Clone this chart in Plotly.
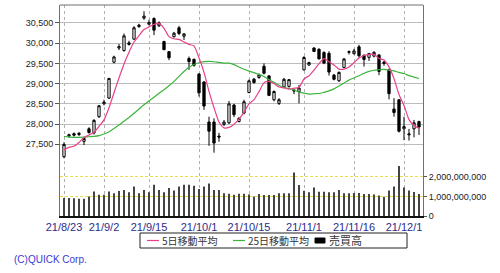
import plotly.graph_objects as go

# ---------------- data ----------------
dates = [
    "2021-08-23", "2021-08-24", "2021-08-25", "2021-08-26", "2021-08-27", "2021-08-30", "2021-08-31",
    "2021-09-01", "2021-09-02", "2021-09-03", "2021-09-06", "2021-09-07", "2021-09-08", "2021-09-09",
    "2021-09-10", "2021-09-13", "2021-09-14", "2021-09-15", "2021-09-16", "2021-09-17", "2021-09-21",
    "2021-09-22", "2021-09-24", "2021-09-27", "2021-09-28", "2021-09-29", "2021-09-30",
    "2021-10-01", "2021-10-04", "2021-10-05", "2021-10-06", "2021-10-07", "2021-10-08", "2021-10-11",
    "2021-10-12", "2021-10-13", "2021-10-14", "2021-10-15", "2021-10-18", "2021-10-19", "2021-10-20",
    "2021-10-21", "2021-10-22", "2021-10-25", "2021-10-26", "2021-10-27", "2021-10-28", "2021-10-29",
    "2021-11-01", "2021-11-02", "2021-11-04", "2021-11-05", "2021-11-08", "2021-11-09", "2021-11-10",
    "2021-11-11", "2021-11-12", "2021-11-15", "2021-11-16", "2021-11-17", "2021-11-18", "2021-11-19",
    "2021-11-22", "2021-11-24", "2021-11-25", "2021-11-26", "2021-11-29", "2021-11-30",
    "2021-12-01", "2021-12-02", "2021-12-03", "2021-12-06",
]

open_ = [27190, 27700, 27760, 27770, 27570, 27880, 27780, 28180, 28500, 28640,
         29530, 29880, 29820, 29970, 30100, 30410, 30620, 30470, 30610, 30430,
         30040, 29790, 30160, 30380, 30170, 29620, 29600, 29235, 29040, 28050,
         28050, 27700, 27990, 28030, 28470, 28060, 28270, 28780, 29110, 29150,
         29430, 29190, 28600, 28510, 28920, 28930, 28840, 28800, 29340, 29460,
         29880, 29850, 29770, 29750, 29210, 29070, 29400, 29790, 29740, 29910,
         29700, 29650, 29680, 29710, 29530, 29340, 28370, 28600, 27880, 27730,
         27880, 28060]
high = [27550, 27760, 27790, 27800, 27680, 27920, 28120, 28470, 28600, 29140,
        29690, 29980, 30240, 30060, 30420, 30480, 30790, 30580, 30640, 30540,
        30060, 29800, 30280, 30430, 30250, 29670, 29620, 29260, 29060, 28180,
        28140, 27780, 28100, 28570, 28500, 28170, 28600, 29100, 29140, 29250,
        29500, 29210, 28830, 28640, 29140, 29110, 28880, 28970, 29680, 29540,
        29900, 29870, 29800, 29800, 29240, 29300, 29630, 29820, 29860, 29960,
        29720, 29760, 29800, 29720, 29560, 29370, 28640, 28610, 28180, 27880,
        28100, 28080]
low = [27150, 27660, 27690, 27700, 27480, 27760, 27740, 28150, 28460, 28620,
       29500, 29830, 29790, 29940, 30080, 30380, 30580, 30440, 30200, 30400,
       29830, 29580, 30140, 30200, 30080, 29340, 29420, 28680, 28350, 27460,
       27290, 27560, 27950, 28000, 28170, 28040, 28240, 28760, 29000, 29120,
       29230, 28690, 28560, 28470, 28900, 28900, 28740, 28510, 29320, 29440,
       29780, 29600, 29480, 29200, 29080, 29040, 29380, 29720, 29720, 29640,
       29420, 29560, 29650, 29210, 29440, 28610, 28180, 27790, 27600, 27590,
       27670, 27730]
close = [27494, 27732, 27724, 27742, 27641, 27789, 28089, 28451, 28543, 29128,
         29659, 29916, 30181, 30008, 30381, 30447, 30670, 30511, 30323, 30500,
         29839, 29639, 30248, 30240, 30230, 29544, 29452, 28771, 28444, 27822,
         27528, 27678, 28048, 28498, 28230, 28140, 28550, 29068, 29025, 29215,
         29255, 28708, 28804, 28600, 29106, 29098, 28820, 28892, 29647, 29520,
         29794, 29611, 29507, 29285, 29106, 29277, 29609, 29776, 29808, 29688,
         29598, 29745, 29774, 29302, 29499, 28751, 28283, 27821, 27935, 27753,
         28029, 27927]

ma5 = [27359, 27421, 27449, 27541, 27667, 27726, 27797, 27942, 28103, 28400,
       28774, 29139, 29485, 29778, 30029, 30187, 30337, 30403, 30466, 30490,
       30369, 30162, 30110, 30093, 30030, 29971, 29933, 29638, 29279, 28807,
       28403, 28049, 27904, 27915, 27996, 28119, 28293, 28497, 28603, 28800,
       29023, 29054, 29001, 28916, 28895, 28863, 28886, 28903, 29113, 29195,
       29335, 29493, 29616, 29543, 29461, 29357, 29357, 29411, 29515, 29632,
       29696, 29723, 29723, 29621, 29584, 29414, 29122, 28731, 28458, 28109,
       27964, 27893]

ma25 = [27690, 27680, 27670, 27668, 27675, 27684, 27694, 27713, 27752, 27806,
        27890, 27975, 28070, 28160, 28265, 28370, 28475, 28570, 28660, 28760,
        28850, 28945, 29055, 29180, 29300, 29405, 29474, 29516, 29544, 29551,
        29541, 29524, 29508, 29506, 29470, 29410, 29355, 29310, 29271, 29225,
        29177, 29098, 29030, 28961, 28905, 28876, 28843, 28789, 28765, 28739,
        28749, 28755, 28784, 28818, 28869, 28939, 29017, 29086, 29138, 29196,
        29255, 29302, 29331, 29342, 29353, 29333, 29316, 29277, 29250, 29196,
        29161, 29125]

volume = [0.92e9, 0.92e9, 0.91e9, 0.88e9, 0.88e9, 1.00e9, 1.25e9, 1.08e9, 1.08e9, 1.25e9,
          1.16e9, 1.28e9, 1.33e9, 1.21e9, 1.50e9, 1.16e9, 1.33e9, 1.21e9, 1.60e9, 1.33e9,
          1.21e9, 1.43e9, 1.30e9, 1.50e9, 1.60e9, 1.60e9, 1.55e9, 1.38e9, 1.50e9, 1.66e9,
          1.33e9, 1.33e9, 1.16e9, 1.13e9, 1.09e9, 1.13e9, 1.14e9, 1.10e9, 0.99e9, 1.12e9,
          1.07e9, 1.07e9, 1.07e9, 1.16e9, 1.16e9, 1.16e9, 2.22e9, 1.58e9, 1.29e9, 1.21e9,
          1.46e9, 1.24e9, 1.24e9, 1.21e9, 1.21e9, 1.33e9, 1.16e9, 1.16e9, 1.18e9, 1.18e9,
          1.12e9, 1.12e9, 1.10e9, 1.05e9, 0.98e9, 1.30e9, 1.50e9, 2.55e9, 1.46e9, 1.30e9,
          1.22e9, 1.12e9]

tick_dates = ["2021-08-23", "2021-09-02", "2021-09-15", "2021-10-01",
              "2021-10-15", "2021-11-01", "2021-11-16", "2021-12-01"]
tick_labels = ["21/8/23", "21/9/2", "21/9/15", "21/10/1",
               "21/10/15", "21/11/1", "21/11/16", "21/12/1"]
price_ticks = [27500, 28000, 28500, 29000, 29500, 30000, 30500]
vol_ticks = [0, 1e9, 2e9]

legend_names = ["5日移動平均", "25日移動平均", "売買高"]

# ---------------- figure ----------------
PINK = "#e8408a"
GREEN = "#3cb43c"
W, H = 500, 273
L, R, T, B = 60, 77, 5, 57
pw, ph = W - L - R, H - T - B


def px(x):
    return (x - L) / pw


def py(y):
    return (H - B - y) / ph


fig = go.Figure()

fig.add_trace(go.Bar(
    x=dates, y=volume, yaxis="y2", width=0.2,
    marker=dict(color="#444444", line=dict(width=0)),
    showlegend=False, hoverinfo="skip"))

fig.add_trace(go.Candlestick(
    x=dates, open=open_, high=high, low=low, close=close,
    increasing=dict(line=dict(color="#000000", width=1), fillcolor="#ffffff"),
    decreasing=dict(line=dict(color="#000000", width=1), fillcolor="#000000"),
    whiskerwidth=0, showlegend=False))

fig.add_trace(go.Scatter(
    x=dates, y=ma25, mode="lines", name=legend_names[1],
    line=dict(color=GREEN, width=1.2, shape="spline", smoothing=0.6), showlegend=False))
fig.add_trace(go.Scatter(
    x=dates, y=ma5, mode="lines", name=legend_names[0],
    line=dict(color=PINK, width=1.2, shape="spline", smoothing=0.6), showlegend=False))

fig.update_layout(
    width=W, height=H,
    margin=dict(l=L, r=R, t=T, b=B, pad=0),
    paper_bgcolor="white", plot_bgcolor="white",
    showlegend=False,
    boxgap=0.35,
    xaxis=dict(
        type="category", range=[-0.8, 71.8],
        tickmode="array", tickvals=tick_dates, ticktext=tick_labels,
        showgrid=True, gridcolor="#b0b0b0", griddash="3px,3px", gridwidth=1,
        ticks="", tickfont=dict(family="Liberation Sans", size=11, color="#2c2c8c"),
        showline=True, linecolor="#111111", linewidth=2,
        rangeslider=dict(visible=False), fixedrange=True,
    ),
    yaxis=dict(
        range=[25723, 30945],
        tickmode="array", tickvals=price_ticks,
        ticktext=[f"{v:,}" for v in price_ticks],
        showgrid=True, gridcolor="#bcbcbc", gridwidth=1, zeroline=False,
        ticks="outside", ticklen=4, tickcolor="#555555",
        tickfont=dict(family="Liberation Sans", size=9, color="#222222"),
        showline=True, linecolor="#707070", linewidth=1,
    ),
    yaxis2=dict(
        range=[0, 10.77e9], overlaying="y", side="right",
        tickmode="array", tickvals=vol_ticks,
        ticktext=[f"{int(v):,}" for v in vol_ticks],
        showgrid=True, gridcolor="#ecdc50", griddash="3px,2px", gridwidth=1, zeroline=False,
        ticks="outside", ticklen=3, tickcolor="#555555",
        tickfont=dict(family="Liberation Sans", size=9, color="#222222"),
        showline=True, linecolor="#707070", linewidth=1,
    ),
)

shapes = [
    dict(type="line", xref="paper", yref="paper", x0=0, x1=1, y0=1, y1=1,
         line=dict(color="#707070", width=1)),
    dict(type="rect", xref="paper", yref="paper",
         x0=px(140), x1=px(407), y0=py(248), y1=py(233),
         line=dict(color="#222222", width=1), fillcolor="white"),
    dict(type="line", xref="paper", yref="paper",
         x0=px(147), x1=px(159), y0=py(240.5), y1=py(240.5),
         line=dict(color=PINK, width=1.2)),
    dict(type="line", xref="paper", yref="paper",
         x0=px(233), x1=px(245), y0=py(240.5), y1=py(240.5),
         line=dict(color=GREEN, width=1.2)),
    dict(type="rect", xref="paper", yref="paper",
         x0=px(315), x1=px(325), y0=py(243), y1=py(238),
         line=dict(color="#000000", width=1), fillcolor="#000000"),
]
fig.update_layout(shapes=shapes)

lf = dict(family="Noto Sans CJK JP", size=10, color="#333333")
annotations = [
    dict(x=px(160), y=py(240.5), xref="paper", yref="paper", text=legend_names[0],
         showarrow=False, xanchor="left", yanchor="middle", font=lf),
    dict(x=px(246), y=py(240.5), xref="paper", yref="paper", text=legend_names[1],
         showarrow=False, xanchor="left", yanchor="middle", font=lf),
    dict(x=px(327), y=py(240.5), xref="paper", yref="paper", text=legend_names[2],
         showarrow=False, xanchor="left", yanchor="middle",
         font=dict(family="Noto Sans CJK JP", size=11, color="#333333")),
    dict(x=px(12), y=py(259), xref="paper", yref="paper", text="(C)QUICK Corp.",
         showarrow=False, xanchor="left", yanchor="middle",
         font=dict(family="Liberation Sans", size=10, color="#3a3ad0")),
]
fig.update_layout(annotations=annotations)

fig.write_html("out.html")
